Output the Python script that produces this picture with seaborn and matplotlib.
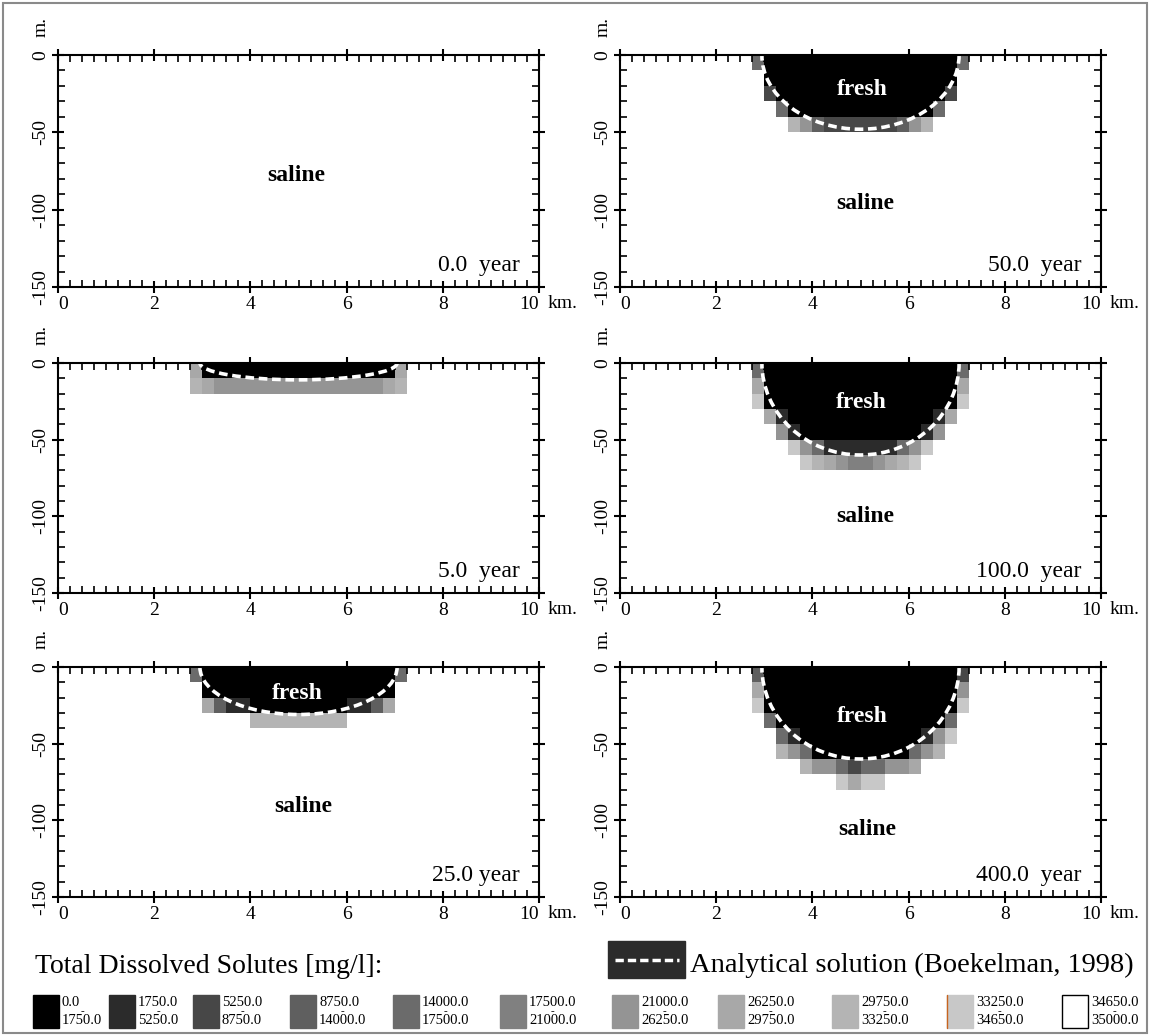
import numpy as np
import matplotlib
matplotlib.use('Agg')
import matplotlib.pyplot as plt
import seaborn as sns
from matplotlib.colors import ListedColormap
from matplotlib.patches import Arc, Rectangle
from matplotlib.lines import Line2D
from matplotlib.text import Annotation

# concentration classes of the legend (mg/l) and their grey levels
class_low = ['0.0', '1750.0', '5250.0', '8750.0', '14000.0', '17500.0',
             '21000.0', '26250.0', '29750.0', '33250.0', '34650.0']
class_high = ['1750.0', '5250.0', '8750.0', '14000.0', '17500.0', '21000.0',
              '26250.0', '29750.0', '33250.0', '34650.0', '35000.0']
class_colors = ['#000000', '#2b2b2b', '#474747', '#5f5f5f', '#6b6b6b', '#808080',
                '#949494', '#a8a8a8', '#b4b4b4', '#c8c8c8', '#ffffff']
saline_class = 10

# model grid: 40 columns of 0.25 km, 15 layers of 10 m
n_cols = 40
n_rows = 15
col_km = 0.25
row_m = 10

# non saline cells per time step: (layer, first column, class of each column)
cells_0yr = []
cells_5yr = [
    (0, 11, '700000000000000007'),
    (1, 11, '876666666666666678'),
]
cells_25yr = [
    (0, 11, '400000000000000004'),
    (1, 12, '0000000000000000'),
    (2, 12, '7311000000001137'),
    (3, 16, '88888888'),
]
cells_50yr = [
    (0, 11, '400000000000000004'),
    (1, 12, '0000000000000000'),
    (2, 12, '2000000000000002'),
    (3, 13, '40000000000004'),
    (4, 14, '863222222368'),
]
cells_100yr = [
    (0, 11, '400000000000000004'),
    (1, 11, '700000000000000007'),
    (2, 11, '900000000000000009'),
    (3, 12, '7100000000000017'),
    (4, 13, '61000000000016'),
    (5, 14, '964111111469'),
    (6, 15, '9876556789'),
]
cells_400yr = [
    (0, 11, '300000000000000002'),
    (1, 11, '700000000000000006'),
    (2, 11, '900000000000000009'),
    (3, 12, '4000000000000004'),
    (4, 13, '410000000000169'),
    (5, 13, '86400000000468'),
    (6, 15, '8664244667'),
    (7, 18, '9799'),
]

# analytical solution (Boekelman, 1998): lens centre, half width and depth
lens_center_km = 5.0
lens_halfwidth_km = 2.05
lens_depth_m = [None, 11, 31, 48, 60, 60]

year_labels = ['0.0  year', '5.0  year', '25.0 year', '50.0  year', '100.0  year', '400.0  year']
panel_cells = [cells_0yr, cells_5yr, cells_25yr, cells_50yr, cells_100yr, cells_400yr]
fresh_pos = [None, None, (4.97, -17), (5.03, -22), (5.02, -25.5), (5.04, -32)]
saline_pos = [(4.95, -78), None, (5.1, -91), (5.1, -96), (5.1, -100), (5.15, -106)]

x_major_km = [0, 2, 4, 6, 8, 10]
x_major_labels = ['0', '2', '4', '6', '8', '10']
y_major_m = [0, -50, -100, -150]
y_major_labels = ['0', '-50', '-100', '-150']

sns.set_style('white')
plt.rcParams['font.family'] = 'serif'
plt.rcParams['font.serif'] = ['Liberation Serif', 'DejaVu Serif']
plt.rcParams['text.color'] = 'black'
plt.rcParams['xtick.color'] = 'black'
plt.rcParams['ytick.color'] = 'black'

W, H = 1150, 1036
fig = plt.figure(figsize=(W / 100, H / 100), dpi=100)
cmap = ListedColormap(class_colors)

# panel frames in pixels: (left, top) of each axes box
panel_left_px = [58, 58, 58, 620, 620, 620]
panel_top_px = [55, 363, 667, 55, 363, 667]
panel_w_px = 481
panel_h_px = [232, 230, 230, 232, 230, 230]

for i in range(6):
    ax = fig.add_axes([panel_left_px[i] / W, 1 - (panel_top_px[i] + panel_h_px[i]) / H,
                       panel_w_px / W, panel_h_px[i] / H])
    grid = np.full((n_rows, n_cols), saline_class)
    for row, c0, s in panel_cells[i]:
        grid[row, c0:c0 + len(s)] = [int(ch) for ch in s]
    sns.heatmap(grid, ax=ax, cmap=cmap, vmin=-0.5, vmax=10.5, cbar=False,
                xticklabels=False, yticklabels=False)

    # analytical interface
    if lens_depth_m[i]:
        arc = Arc((lens_center_km / col_km, 0), 2 * lens_halfwidth_km / col_km,
                  2 * lens_depth_m[i] / row_m, theta1=0, theta2=180,
                  color='white', lw=2.6, linestyle=(0, (2.4, 1.3)), zorder=3)
        ax.add_patch(arc)

    # axes, ticks (drawn above the cells)
    ax.set_axisbelow(False)
    ax.set_xlim(0, n_cols)
    ax.set_ylim(n_rows, 0)
    ax.set_xticks(np.array(x_major_km) / col_km)
    ax.set_xticklabels(x_major_labels)
    ax.set_xticks(np.arange(0, n_cols + 1), minor=True)
    ax.set_yticks(-np.array(y_major_m) / row_m)
    ax.set_yticklabels(y_major_labels, rotation=90, va='center')
    ax.set_yticks(np.arange(0, n_rows + 1), minor=True)
    ax.tick_params(which='major', direction='inout', length=9, width=1.5,
                   bottom=True, left=True, top=True, right=True,
                   labelsize=14, pad=2)
    ax.tick_params(which='minor', direction='in', length=5, width=1.2,
                   bottom=True, left=True, top=True, right=True)
    xt = ax.get_xticklabels()
    xt[0].set_horizontalalignment('left')
    xt[-1].set_horizontalalignment('right')
    for sp in ax.spines.values():
        sp.set_visible(True)
        sp.set_color('black')
        sp.set_linewidth(1.5)
        sp.set_zorder(5)

    ax.annotate('km.', xy=(1, 0), xycoords='axes fraction', xytext=(6, -6),
                textcoords='offset points', ha='left', va='top', fontsize=14)
    ax.annotate('m.', xy=(0, 1), xycoords='axes fraction', xytext=(-6, 20),
                textcoords='offset points', ha='right', va='center',
                rotation=90, fontsize=14)

    # labels inside the panel
    ax.text(0.96, 0.07, year_labels[i], transform=ax.transAxes, ha='right',
            va='baseline', fontsize=17)
    if fresh_pos[i]:
        ax.text(fresh_pos[i][0] / col_km, -fresh_pos[i][1] / row_m, 'fresh',
                ha='center', va='center', fontsize=17, fontweight='bold',
                color='white', zorder=4)
    if saline_pos[i]:
        ax.text(saline_pos[i][0] / col_km, -saline_pos[i][1] / row_m, 'saline',
                ha='center', va='center', fontsize=17, fontweight='bold', zorder=4)

# legend for the concentration classes
fig.text(35 / W, 1 - 973 / H, 'Total Dissolved Solutes [mg/l]:', fontsize=20,
         ha='left', va='baseline')
legend_x_px = [33, 109, 193, 290, 393, 500, 612, 718, 832, 947, 1062]
for k in range(len(class_colors)):
    x0 = legend_x_px[k]
    edge = 'black' if k == len(class_colors) - 1 else class_colors[k]
    fig.patches.append(Rectangle((x0 / W, 1 - 1028 / H), 26 / W, 33 / H,
                                 transform=fig.transFigure, facecolor=class_colors[k],
                                 edgecolor=edge, lw=1))
    fig.text((x0 + 29) / W, 1 - 1002 / H, class_low[k], fontsize=10.5,
             ha='left', va='center')
    t_low = fig.text((x0 + 29) / W, 1 - 1021 / H, class_high[k], fontsize=10.5,
                     ha='left', va='center')
    fig.add_artist(Annotation('-', xy=(0.5, 0.85), xycoords=t_low, ha='center',
                              va='bottom', fontsize=8))
# thin orange edge on the 33250 swatch
fig.add_artist(Line2D([947 / W, 947 / W], [1 - 1028 / H, 1 - 995 / H],
                      transform=fig.transFigure, color='#c8641e', lw=1))

# legend for the analytical solution
fig.patches.append(Rectangle((608 / W, 1 - 978 / H), 77 / W, 37 / H,
                             transform=fig.transFigure, facecolor='#2b2b2b',
                             edgecolor='#2b2b2b'))
fig.add_artist(Line2D([615 / W, 679 / W], [1 - 960 / H, 1 - 960 / H],
                      transform=fig.transFigure, color='white', lw=2.5,
                      dashes=(2.4, 1.15)))
fig.text(690 / W, 1 - 972 / H, 'Analytical solution (Boekelman, 1998)',
         fontsize=20.5, ha='left', va='baseline')

# grey frame round the figure
fig.patches.append(Rectangle((0.0025, 0.003), 0.995, 0.994, transform=fig.transFigure,
                             fill=False, edgecolor='#8a8a8a', lw=1.5))

fig.savefig('out.png', dpi=100)
